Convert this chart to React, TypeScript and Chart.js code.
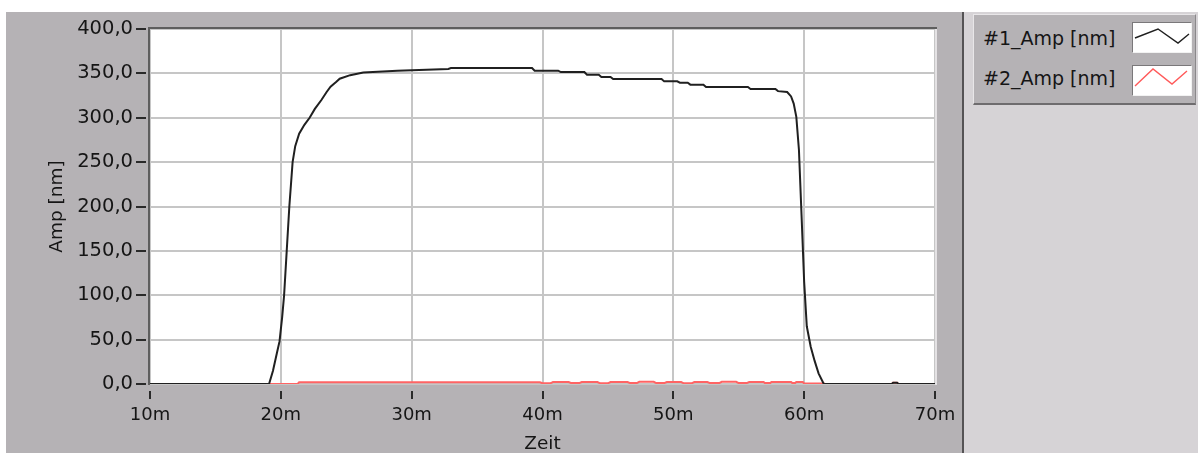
import React, { useEffect, useRef } from "react";
import { Chart, registerables } from "chart.js";

Chart.register(...registerables);

// ---- data ----
const seriesNames = ["#1_Amp [nm]", "#2_Amp [nm]"];
const xTickLabels = ["10m", "20m", "30m", "40m", "50m", "60m", "70m"];
const yTickLabels = ["0,0", "50,0", "100,0", "150,0", "200,0", "250,0", "300,0", "350,0", "400,0"];
const xAxisTitle = "Zeit";
const yAxisTitle = "Amp [nm]";

const amp1Time = [
  10, 19.1, 19.4, 19.7, 19.9, 20.1, 20.25, 20.45, 20.65, 20.9, 21.1, 21.4, 21.8, 22.2, 22.6, 23.1, 23.5,
  23.8, 24.2, 24.5, 25.3, 26.3, 28.9, 32.8, 33.0, 39.2, 39.4, 41.2, 41.4, 43.2, 43.4, 44.3, 44.5, 45.2,
  45.4, 49.1, 49.3, 50.3, 50.5, 51.1, 51.3, 52.3, 52.5, 55.7, 55.9, 57.8, 58.0, 58.7, 59.0, 59.2, 59.4,
  59.6, 59.8, 60.0, 60.2, 60.5, 60.8, 61.1, 61.5, 66.7, 66.8, 67.1, 67.2, 70,
];
const amp1Value = [
  0, 0, 15, 35, 48, 75, 100, 150, 200, 250, 268, 282, 292, 300, 310, 320, 329,
  335, 340, 344, 348, 351, 353, 355, 356, 356, 353, 353, 351.5, 351.5, 348.5, 348.5, 346, 346,
  343.7, 343.7, 341, 341, 339.5, 339.5, 337.3, 337.3, 334.6, 334.6, 332.4, 332.4, 330, 329, 324, 316, 301,
  264, 190, 115, 65, 42, 26, 12, 0, 0, 1.5, 1.5, 0, 0,
];

const amp2Time = [
  10, 19.1, 21.3, 21.4, 39.8, 40.0, 40.6, 40.8, 42.0, 42.2, 42.8, 43.0, 44.2, 44.4, 45.0, 45.2, 46.5,
  46.7, 47.2, 47.4, 48.5, 48.7, 49.3, 49.5, 50.6, 50.8, 51.4, 51.6, 52.6, 52.8, 53.5, 53.7, 54.8, 55.0,
  55.6, 55.8, 56.9, 57.0, 57.4, 57.5, 59.0, 59.1, 59.3, 59.4, 59.9, 60.0, 61.5, 61.6, 66.7, 66.8, 67.1,
  67.2, 70,
];
const amp2Value = [
  0, 0, 0.3, 2, 2, 0.8, 0.8, 2.2, 2.2, 1, 1, 2.2, 2.2, 0.8, 0.8, 2.2, 2.2,
  1, 1, 2.4, 2.4, 1, 1, 2.2, 2.2, 0.8, 0.8, 2.2, 2.2, 1, 1, 2.4, 2.4, 1,
  1, 2.2, 2.2, 1, 1, 2.2, 2.2, 1, 1, 2.2, 2.2, 0.5, 0.5, 0, 0, 1.5, 1.5,
  0, 0,
];

const FONT = "'DejaVu Sans', sans-serif";
const TEXT = "#151515";

const framePlugin = {
  id: "labviewFrame",
  beforeDraw(chart: any) {
    const { ctx, chartArea } = chart;
    ctx.save();
    ctx.fillStyle = "#ffffff";
    ctx.fillRect(chartArea.left, chartArea.top, chartArea.right - chartArea.left, chartArea.bottom - chartArea.top);
    ctx.restore();
  },
  afterDraw(chart: any) {
    const { ctx, chartArea, scales } = chart;
    const { left, right, top, bottom } = chartArea;
    ctx.save();
    ctx.lineWidth = 2;
    ctx.strokeStyle = "#e4e2e4";
    ctx.beginPath();
    ctx.moveTo(right + 1, top - 1);
    ctx.lineTo(right + 1, bottom + 1);
    ctx.stroke();
    ctx.strokeStyle = "#5e5e5e";
    ctx.beginPath();
    ctx.moveTo(left - 1, bottom + 1);
    ctx.lineTo(left - 1, top - 1);
    ctx.lineTo(right + 2, top - 1);
    ctx.stroke();
    ctx.strokeStyle = "#2a2a2a";
    ctx.lineWidth = 2;
    const ys = scales.y;
    ys.ticks.forEach((t: any) => {
      const py = Math.round(ys.getPixelForValue(t.value));
      ctx.beginPath();
      ctx.moveTo(left - 14, py);
      ctx.lineTo(left - 4, py);
      ctx.stroke();
    });
    const xs = scales.x;
    xs.ticks.forEach((t: any) => {
      const px = Math.round(xs.getPixelForValue(t.value));
      ctx.beginPath();
      ctx.moveTo(px, bottom + 7);
      ctx.lineTo(px, bottom + 15);
      ctx.stroke();
    });
    ctx.restore();
  },
};

const noOverflow = (s: any) => {
  s.paddingTop = 0;
  s.paddingBottom = 0;
  s.paddingLeft = 0;
  s.paddingRight = 0;
};

function Swatch({ color, points }: { color: string; points: string }) {
  return (
    <div
      style={{
        position: "absolute",
        width: 58,
        height: 29,
        background: "#ffffff",
        borderTop: "1px solid #7a787a",
        borderLeft: "1px solid #7a787a",
        borderBottom: "1px solid #f2f2f2",
        borderRight: "1px solid #f2f2f2",
      }}
    >
      <svg width={58} height={29} style={{ display: "block" }}>
        <polyline points={points} fill="none" stroke={color} strokeWidth={1.4} />
      </svg>
    </div>
  );
}

export default function App() {
  const canvasRef = useRef<HTMLCanvasElement | null>(null);

  useEffect(() => {
    const canvas = canvasRef.current;
    if (!canvas) return;
    const chart = new Chart(canvas, {
      type: "line",
      data: {
        datasets: [
          {
            label: seriesNames[0],
            data: amp1Time.map((t, i) => ({ x: t, y: amp1Value[i] })),
            borderColor: "#202020",
            borderWidth: 2,
            pointRadius: 0,
            tension: 0,
            fill: false,
          },
          {
            label: seriesNames[1],
            data: amp2Time.map((t, i) => ({ x: t, y: amp2Value[i] })),
            borderColor: "#ff6464",
            borderWidth: 2,
            pointRadius: 0,
            tension: 0,
            fill: false,
          },
        ],
      },
      options: {
        animation: false,
        responsive: false,
        maintainAspectRatio: false,
        layout: { padding: { left: 0, top: 17, right: 27, bottom: 0 } },
        plugins: { legend: { display: false }, tooltip: { enabled: false } },
        scales: {
          x: {
            type: "linear",
            min: 10,
            max: 70,
            afterFit: (s: any) => {
              s.height = 69;
              noOverflow(s);
            },
            ticks: {
              stepSize: 10,
              autoSkip: false,
              maxRotation: 0,
              padding: 21,
              color: TEXT,
              font: { family: FONT, size: 18 },
              callback: (_v: any, i: number) => xTickLabels[i],
            },
            grid: { color: "#c6c6c6", lineWidth: 2, drawTicks: false },
            border: { display: false },
            title: {
              display: true,
              text: xAxisTitle,
              color: TEXT,
              font: { family: FONT, size: 18.5 },
              padding: { top: 0, bottom: -2 },
            },
          },
          y: {
            type: "linear",
            min: 0,
            max: 400,
            afterFit: (s: any) => {
              s.width = 144;
              noOverflow(s);
            },
            ticks: {
              stepSize: 50,
              autoSkip: false,
              padding: 17,
              color: TEXT,
              font: { family: FONT, size: 19.5 },
              callback: (_v: any, i: number) => yTickLabels[i],
            },
            grid: { color: "#c6c6c6", lineWidth: 2, drawTicks: false },
            border: { display: false },
            title: {
              display: true,
              text: yAxisTitle,
              color: TEXT,
              font: { family: FONT, size: 18.5 },
              padding: { top: 40, bottom: 0 },
            },
          },
        },
      },
      plugins: [framePlugin],
    });
    return () => chart.destroy();
  }, []);

  return (
    <div
      style={{
        position: "fixed",
        left: 0,
        top: 0,
        width: 1198,
        height: 453,
        background: "#ffffff",
        overflow: "hidden",
        fontFamily: FONT,
      }}
    >
      <div style={{ position: "absolute", left: 6, top: 12, width: 956, height: 441, background: "#b5b2b5" }}>
        <canvas ref={canvasRef} width={956} height={441} style={{ width: 956, height: 441, display: "block" }} />
      </div>
      <div style={{ position: "absolute", left: 962, top: 12, width: 2, height: 441, background: "#555355" }} />
      <div style={{ position: "absolute", left: 964, top: 12, width: 234, height: 441, background: "#d6d3d6" }} />
      <div
        style={{
          position: "absolute",
          left: 973,
          top: 14,
          width: 221,
          height: 88,
          background: "#b5b2b5",
          borderTop: "1px solid #e8e6e8",
          borderLeft: "1px solid #e8e6e8",
          borderBottom: "2px solid #6e6c6e",
          borderRight: "1px solid #8a888a",
        }}
      >
        <div style={{ position: "absolute", left: 9, top: 12, fontSize: 19, color: TEXT, lineHeight: "22px", whiteSpace: "nowrap" }}>
          {seriesNames[0]}
        </div>
        <div style={{ position: "absolute", left: 9, top: 52, fontSize: 19, color: TEXT, lineHeight: "22px", whiteSpace: "nowrap" }}>
          {seriesNames[1]}
        </div>
        <div style={{ position: "absolute", left: 158, top: 7 }}>
          <Swatch color="#202020" points="2,15 25,6 45,20 56,11" />
        </div>
        <div style={{ position: "absolute", left: 158, top: 50 }}>
          <Swatch color="#ff5a5a" points="2,20 20,3 39,18 54,5" />
        </div>
      </div>
    </div>
  );
}
